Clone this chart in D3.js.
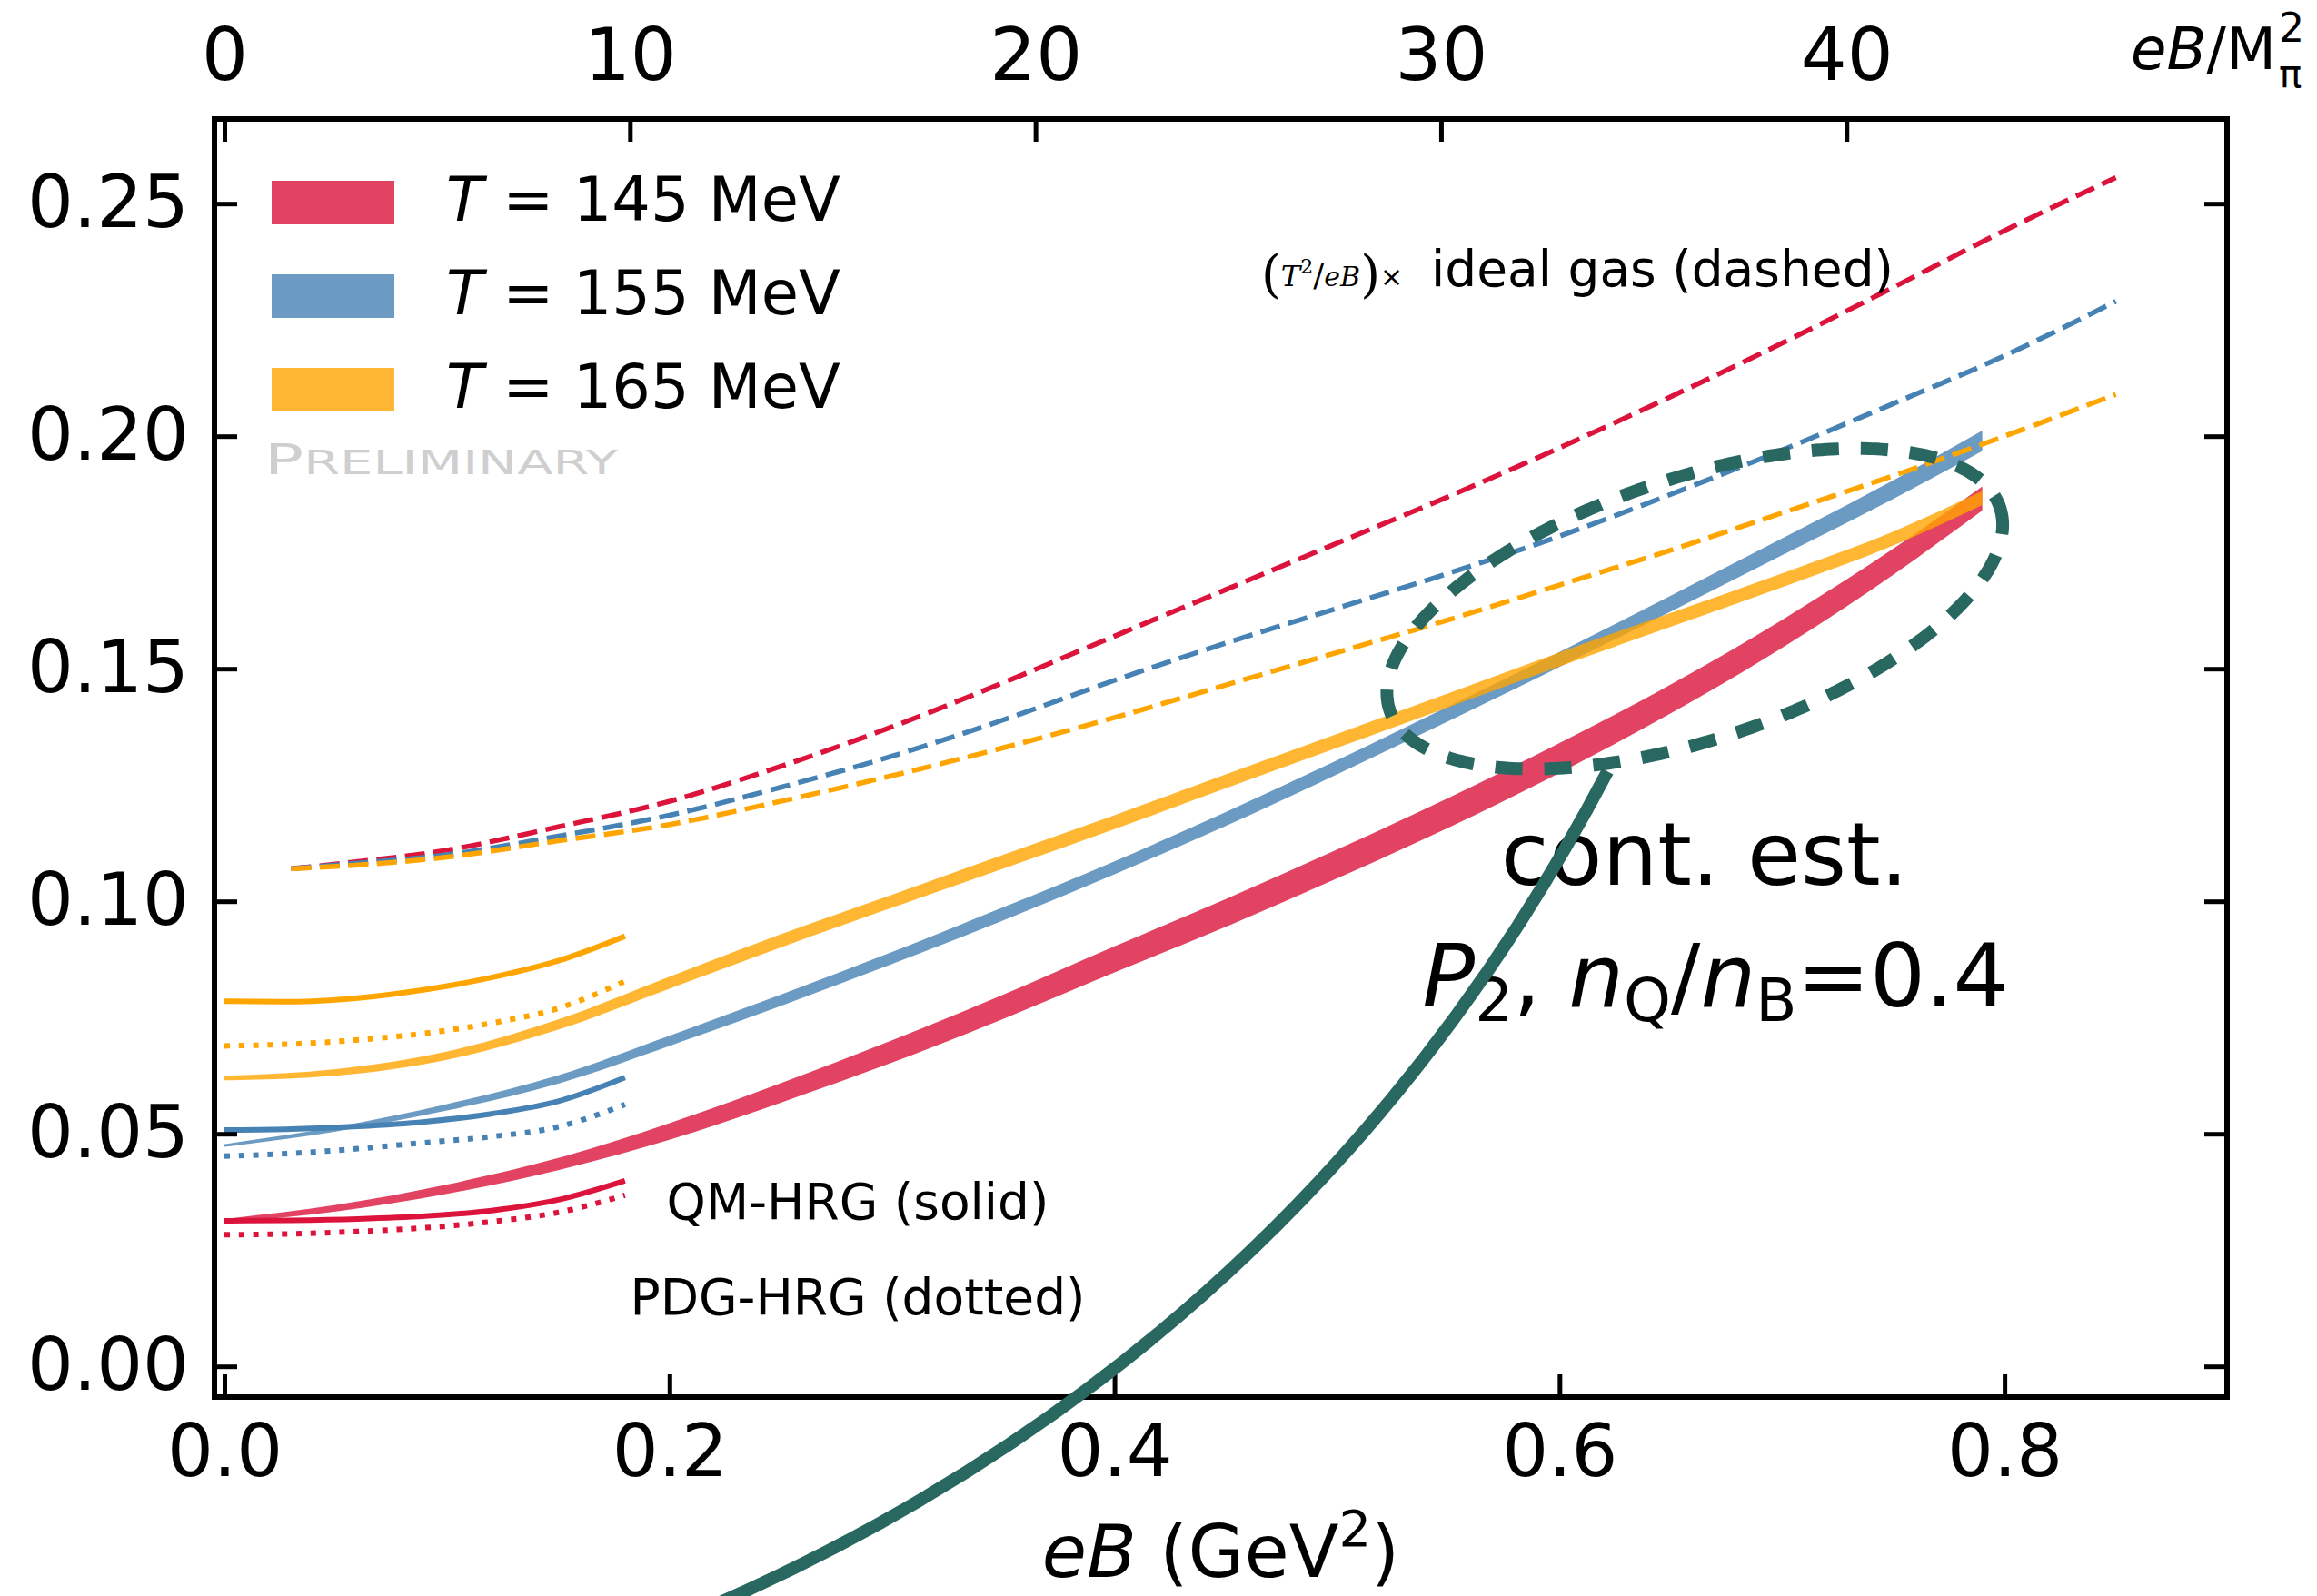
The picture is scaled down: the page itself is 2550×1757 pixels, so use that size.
<!DOCTYPE html>
<html>
<head>
<meta charset="utf-8">
<script src="https://cdn.jsdelivr.net/npm/d3@7"></script>
<style>
  body { margin: 0; background: #fff; }
  text { font-family: "DejaVu Sans", sans-serif; }
</style>
</head>
<body>
<svg id="chart"></svg>
<script>
const width = 2550,
  height = 1757;

// --- data ---
const temps = ["145", "155", "165"];
const lineColors = ["#dc143c", "#4682b4", "#ffa500"];
const teal = "#296861";
const mPi2 = 0.135 * 0.135; // GeV^2, for the top axis

// lattice bands (centre and half width)
const latticeEB = [0, 0.05, 0.1, 0.15, 0.2, 0.25, 0.3, 0.35, 0.4, 0.45, 0.5, 0.55, 0.6, 0.65, 0.7, 0.75, 0.79];
const lat145 = [0.0313, 0.034, 0.0381, 0.0435, 0.0505, 0.0588, 0.0677, 0.0773, 0.0875, 0.0975, 0.108, 0.119, 0.1308, 0.1435, 0.1575, 0.173, 0.1866];
const err145 = [0.0004, 0.0007, 0.001, 0.0013, 0.0018, 0.0021, 0.0024, 0.0026, 0.0028, 0.003, 0.0031, 0.0032, 0.0032, 0.0031, 0.003, 0.0028, 0.0026];
const lat155 = [0.0475, 0.051, 0.0557, 0.0617, 0.07, 0.0787, 0.0878, 0.0973, 0.1072, 0.1177, 0.1288, 0.1403, 0.152, 0.164, 0.1762, 0.1885, 0.199];
const err155 = [0.0003, 0.0005, 0.0007, 0.0009, 0.0011, 0.0012, 0.0013, 0.0014, 0.0014, 0.0015, 0.0015, 0.0016, 0.0016, 0.0017, 0.0018, 0.002, 0.0022];
const lat165 = [0.062, 0.0632, 0.0668, 0.0735, 0.0825, 0.0915, 0.1, 0.1085, 0.117, 0.1258, 0.1345, 0.1432, 0.152, 0.1605, 0.169, 0.178, 0.1867];
const err165 = [0.0005, 0.0007, 0.0009, 0.0011, 0.0013, 0.0014, 0.0014, 0.0015, 0.0015, 0.0015, 0.0015, 0.0015, 0.0015, 0.0015, 0.0015, 0.0015, 0.0015];

// (T^2/eB) x ideal gas, dashed
const idealEB = [0.03, 0.05, 0.1, 0.15, 0.2, 0.25, 0.3, 0.35, 0.4, 0.45, 0.5, 0.55, 0.6, 0.65, 0.7, 0.75, 0.8, 0.85];
const ideal145 = [0.107, 0.108, 0.111, 0.116, 0.1215, 0.129, 0.1375, 0.147, 0.157, 0.167, 0.177, 0.187, 0.1975, 0.2085, 0.22, 0.232, 0.2442, 0.2556];
const ideal155 = [0.107, 0.1078, 0.11, 0.114, 0.1185, 0.1245, 0.1312, 0.139, 0.1475, 0.1555, 0.163, 0.1705, 0.1785, 0.1875, 0.197, 0.207, 0.2173, 0.229];
const ideal165 = [0.107, 0.1075, 0.1095, 0.113, 0.1165, 0.1215, 0.127, 0.133, 0.1395, 0.1465, 0.1535, 0.1605, 0.168, 0.1755, 0.1835, 0.1915, 0.2, 0.209];

// HRG curves: QM (solid), PDG (dotted)
const hrgEB = [0, 0.03, 0.06, 0.09, 0.12, 0.15, 0.18];
const qm145 = [0.0313, 0.0314, 0.0317, 0.0323, 0.0335, 0.0358, 0.0399];
const pdg145 = [0.0283, 0.0285, 0.029, 0.0298, 0.0311, 0.0331, 0.0368];
const qm155 = [0.0508, 0.051, 0.0516, 0.0526, 0.0543, 0.057, 0.0621];
const pdg155 = [0.0452, 0.0458, 0.0468, 0.0481, 0.0494, 0.0515, 0.0563];
const qm165 = [0.0785, 0.0784, 0.0792, 0.081, 0.0836, 0.0872, 0.0925];
const pdg165 = [0.0689, 0.0693, 0.0702, 0.0716, 0.0738, 0.077, 0.0828];

const xTicks = [0, 0.2, 0.4, 0.6, 0.8];
const yTicks = [0, 0.05, 0.1, 0.15, 0.2, 0.25];
const topTicks = [0, 10, 20, 30, 40];

// continuum estimate marker: ellipse + connecting arc (data coords)
const contEllipse = { cx: 0.6608, cy: 0.1629, rx: 0.1445, ry: 0.0281, angle: -18.4 };
const contArc = { x0: 0.6216, y0: 0.1279, x1: 0.2216, y1: -0.051, rad: 0.175 };

// --- drawing ---
const svg = d3.select("#chart").attr("width", width).attr("height", height);

const x = d3.scaleLinear().domain([-0.0045, 0.9]).range([236, 2451]);
const y = d3.scaleLinear().domain([-0.0066, 0.2682]).range([1538, 131]);
const xTop = d3.scaleLinear().domain(x.domain().map(v => v / mPi2)).range(x.range());

const plot = svg.append("g");

// bands
[[lat145, err145], [lat155, err155], [lat165, err165]].forEach(([vals, errs], i) => {
  const area = d3
    .area()
    .x((d, j) => x(latticeEB[j]))
    .y0((d, j) => y(d - errs[j]))
    .y1((d, j) => y(d + errs[j]))
    .curve(d3.curveMonotoneX);
  plot
    .append("path")
    .datum(vals)
    .attr("d", area)
    .attr("fill", lineColors[i])
    .attr("fill-opacity", 0.8);
});

const drawLine = (xs, vals, color, dash, w) => {
  const line = d3
    .line()
    .x((d, j) => x(xs[j]))
    .y(d => y(d))
    .curve(d3.curveMonotoneX);
  plot
    .append("path")
    .datum(vals)
    .attr("d", line)
    .attr("fill", "none")
    .attr("stroke", color)
    .attr("stroke-width", w)
    .attr("stroke-dasharray", dash);
};

[qm145, qm155, qm165].forEach((v, i) => drawLine(hrgEB, v, lineColors[i], null, 6));
[pdg145, pdg155, pdg165].forEach((v, i) => drawLine(hrgEB, v, lineColors[i], "6 9.8", 6));
[ideal145, ideal155, ideal165].forEach((v, i) => drawLine(idealEB, v, lineColors[i], "22 9.5", 5.5));

// axes
const styleAxis = g => {
  g.select(".domain").remove();
  g.attr("font-family", "DejaVu Sans").attr("font-size", 80);
  g.selectAll(".tick line").attr("stroke-width", 5);
  g.selectAll(".tick text").attr("fill", "#000");
};

svg
  .append("g")
  .attr("transform", `translate(0,${y.range()[0]})`)
  .call(d3.axisBottom(x).tickValues(xTicks).tickFormat(d3.format(".1f")).tickSizeInner(-25).tickSizeOuter(0).tickPadding(30))
  .call(styleAxis);

svg
  .append("g")
  .attr("transform", `translate(0,${y.range()[1]})`)
  .call(d3.axisTop(xTop).tickValues(topTicks).tickFormat(d3.format("d")).tickSizeInner(-25).tickSizeOuter(0).tickPadding(43))
  .call(styleAxis);

svg
  .append("g")
  .attr("transform", `translate(${x.range()[0]},0)`)
  .call(d3.axisLeft(y).tickValues(yTicks).tickFormat(d3.format(".2f")).tickSizeInner(-25).tickSizeOuter(0).tickPadding(28))
  .call(styleAxis);

svg
  .append("g")
  .attr("transform", `translate(${x.range()[1]},0)`)
  .call(d3.axisRight(y).tickValues(yTicks).tickFormat("").tickSizeInner(-25).tickSizeOuter(0))
  .call(styleAxis);

svg
  .append("rect")
  .attr("x", x.range()[0])
  .attr("y", y.range()[1])
  .attr("width", x.range()[1] - x.range()[0])
  .attr("height", y.range()[0] - y.range()[1])
  .attr("fill", "none")
  .attr("stroke", "#000")
  .attr("stroke-width", 6);

// axis labels
const xLabel = svg
  .append("text")
  .attr("x", (x.range()[0] + x.range()[1]) / 2)
  .attr("y", 1736)
  .attr("text-anchor", "middle")
  .attr("font-size", 80);
xLabel.append("tspan").attr("font-style", "italic").text("eB");
xLabel.append("tspan").text(" (GeV");
xLabel.append("tspan").attr("font-size", 56).attr("dy", -34).text("2");
xLabel.append("tspan").attr("dy", 34).text(")");

// top axis label eB/M_pi^2 (super- and subscript stacked)
const topLabel = svg.append("text").attr("x", 2345).attr("y", 76).attr("font-size", 64);
topLabel.append("tspan").attr("font-style", "italic").text("eB");
topLabel.append("tspan").text("/M");
svg.append("text").attr("x", 2508).attr("y", 46).attr("font-size", 44).text("2");
svg.append("text").attr("x", 2508).attr("y", 96).attr("font-size", 42).text("π");

// legend
const legend = svg.append("g").attr("transform", "translate(299,199)");
temps.forEach((t, i) => {
  const row = legend.append("g").attr("transform", `translate(0,${i * 103})`);
  row
    .append("rect")
    .attr("width", 135)
    .attr("height", 48)
    .attr("fill", lineColors[i])
    .attr("fill-opacity", 0.8);
  const label = row.append("text").attr("x", 192).attr("y", 44).attr("font-size", 67);
  label.append("tspan").attr("font-style", "italic").text("T");
  label.append("tspan").text(` = ${t} MeV`);
});

const prelim = svg
  .append("text")
  .attr("x", 291)
  .attr("y", 522)
  .attr("fill", "#cfcfcf")
  .attr("textLength", 389)
  .attr("lengthAdjust", "spacingAndGlyphs");
prelim.append("tspan").attr("font-size", 46).text("P");
prelim.append("tspan").attr("font-size", 37).text("RELIMINARY");

// annotations
const ideal = svg.append("text").attr("x", 1388).attr("y", 315);
ideal.append("tspan").attr("font-family", "DejaVu Serif").attr("font-size", 56).attr("dy", 6).text("(");
ideal.append("tspan").attr("font-family", "DejaVu Serif").attr("font-style", "italic").attr("font-size", 32).attr("dy", -6).text("T");
ideal.append("tspan").attr("font-family", "DejaVu Serif").attr("font-size", 22).attr("dy", -14).text("2");
ideal.append("tspan").attr("font-family", "DejaVu Serif").attr("font-size", 36).attr("dy", 14).text("/");
ideal.append("tspan").attr("font-family", "DejaVu Serif").attr("font-style", "italic").attr("font-size", 30).text("eB");
ideal.append("tspan").attr("font-family", "DejaVu Serif").attr("font-size", 56).attr("dy", 6).text(")");
ideal.append("tspan").attr("font-size", 30).attr("dy", -6).text("×");
ideal.append("tspan").attr("x", 1575).attr("font-size", 55).text("ideal gas (dashed)");

svg.append("text").attr("x", 944).attr("y", 1342).attr("text-anchor", "middle").attr("font-size", 55).text("QM-HRG (solid)");
svg.append("text").attr("x", 944).attr("y", 1447).attr("text-anchor", "middle").attr("font-size", 55).text("PDG-HRG (dotted)");

svg.append("text").attr("x", 1876).attr("y", 974).attr("text-anchor", "middle").attr("font-size", 96).text("cont. est.");
const p2 = svg.append("text").attr("x", 1888).attr("y", 1108).attr("text-anchor", "middle").attr("font-size", 96);
p2.append("tspan").attr("font-style", "italic").text("P");
p2.append("tspan").attr("font-size", 66).attr("dy", 16).text("2");
p2.append("tspan").attr("dy", -16).text(", ");
p2.append("tspan").attr("font-style", "italic").text("n");
p2.append("tspan").attr("font-size", 66).attr("dy", 16).text("Q");
p2.append("tspan").attr("dy", -16).text("/");
p2.append("tspan").attr("font-style", "italic").text("n");
p2.append("tspan").attr("font-size", 66).attr("dy", 16).text("B");
p2.append("tspan").attr("dy", -16).text("=0.4");

// ellipse around the high-eB end
const cx = x(contEllipse.cx),
  cy = y(contEllipse.cy),
  a = x(contEllipse.rx) - x(0),
  b = y(0) - y(contEllipse.ry),
  phi = (contEllipse.angle * Math.PI) / 180;
const ellipsePts = d3.range(0, 2 * Math.PI, Math.PI / 180).map(t => [
  cx + a * Math.cos(t) * Math.cos(phi) - b * Math.sin(t) * Math.sin(phi),
  cy + a * Math.cos(t) * Math.sin(phi) + b * Math.sin(t) * Math.cos(phi)
]);
svg
  .append("path")
  .attr("d", d3.line().curve(d3.curveLinearClosed)(ellipsePts))
  .attr("fill", "none")
  .attr("stroke", teal)
  .attr("stroke-width", 14)
  .attr("stroke-dasharray", "30 24");

// connecting arc (quadratic, bent to the lower right)
const p0 = [x(contArc.x0), y(contArc.y0)],
  p1 = [x(contArc.x1), y(contArc.y1)];
const dx = p1[0] - p0[0],
  dy = p1[1] - p0[1];
const ctrl = [(p0[0] + p1[0]) / 2 + contArc.rad * dy, (p0[1] + p1[1]) / 2 - contArc.rad * dx];
const arc = d3.path();
arc.moveTo(p0[0], p0[1]);
arc.quadraticCurveTo(ctrl[0], ctrl[1], p1[0], p1[1]);
svg
  .append("path")
  .attr("d", arc.toString())
  .attr("fill", "none")
  .attr("stroke", teal)
  .attr("stroke-width", 14);
</script>
</body>
</html>
